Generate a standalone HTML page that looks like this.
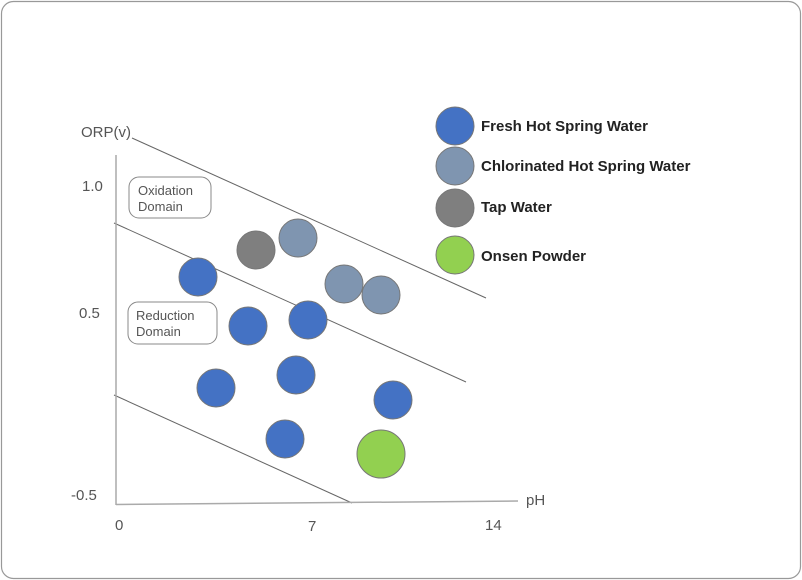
<!DOCTYPE html>
<html><head><style>
html,body{margin:0;padding:0;background:#fff;}
svg{display:block;}
text{font-family:"Liberation Sans",sans-serif;}
</style></head><body>
<svg width="802" height="580" viewBox="0 0 802 580">
<rect x="1.5" y="1.5" width="799" height="577" rx="12" fill="#fff" stroke="#999" stroke-width="1.2"/>
<g stroke="#666" stroke-width="1" fill="none">
<line x1="132" y1="138" x2="486" y2="298"/>
<line x1="114" y1="223" x2="466" y2="382"/>
<line x1="114" y1="395" x2="352" y2="503"/>
</g>
<g stroke="#aaa" stroke-width="1.5">
<line x1="116" y1="155" x2="116" y2="505"/>
<line x1="116" y1="504.5" x2="518" y2="501"/>
</g>
<g fill="#555" font-size="15">
<text x="81" y="137">ORP(v)</text>
<text x="82" y="191">1.0</text>
<text x="79" y="318">0.5</text>
<text x="71" y="500">-0.5</text>
<text x="115" y="530">0</text>
<text x="308" y="531">7</text>
<text x="485" y="530">14</text>
<text x="526" y="505">pH</text>
</g>
<rect x="129" y="177" width="82" height="41" rx="10" fill="#fff" stroke="#888"/>
<rect x="128" y="302" width="89" height="42" rx="10" fill="#fff" stroke="#888"/>
<g fill="#555" font-size="13">
<text x="138" y="195">Oxidation</text><text x="138" y="211">Domain</text>
<text x="136" y="320">Reduction</text><text x="136" y="336">Domain</text>
</g>
<g stroke="#777" stroke-width="1">
<circle cx="256" cy="250" r="19" fill="#7f7f7f"/>
<circle cx="298" cy="238" r="19" fill="#7f95b0"/>
<circle cx="344" cy="284" r="19" fill="#7f95b0"/>
<circle cx="381" cy="295" r="19" fill="#7f95b0"/>
<circle cx="198" cy="277" r="19" fill="#4472c4"/>
<circle cx="248" cy="326" r="19" fill="#4472c4"/>
<circle cx="308" cy="320" r="19" fill="#4472c4"/>
<circle cx="216" cy="388" r="19" fill="#4472c4"/>
<circle cx="296" cy="375" r="19" fill="#4472c4"/>
<circle cx="393" cy="400" r="19" fill="#4472c4"/>
<circle cx="285" cy="439" r="19" fill="#4472c4"/>
<circle cx="381" cy="454" r="24" fill="#92d050"/>
<circle cx="455" cy="126" r="19" fill="#4472c4"/>
<circle cx="455" cy="166" r="19" fill="#7f95b0"/>
<circle cx="455" cy="208" r="19" fill="#7f7f7f"/>
<circle cx="455" cy="255" r="19" fill="#92d050"/>
</g>
<g fill="#222" font-size="15" font-weight="bold">
<text x="481" y="131">Fresh Hot Spring Water</text>
<text x="481" y="171">Chlorinated Hot Spring Water</text>
<text x="481" y="212">Tap Water</text>
<text x="481" y="261">Onsen Powder</text>
</g>
</svg>
</body></html>
